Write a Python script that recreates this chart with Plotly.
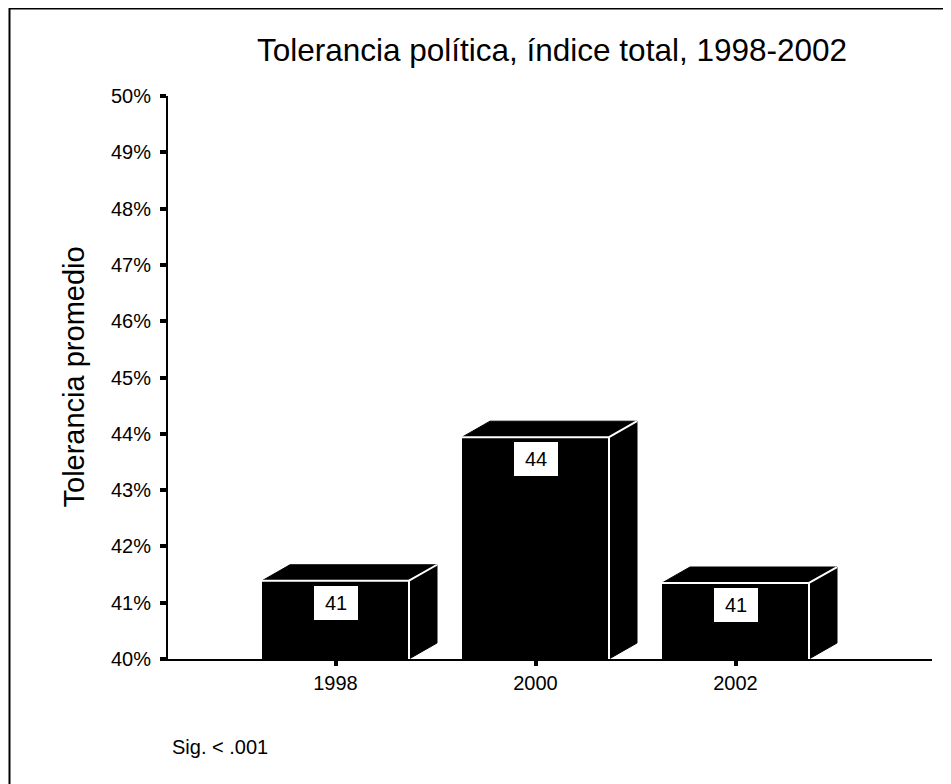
import plotly.graph_objects as go

# ---- data ----
years = ["1998", "2000", "2002"]
values = [41.39, 43.94, 41.35]
labels = ["41", "44", "41"]
y_ticks = [40, 41, 42, 43, 44, 45, 46, 47, 48, 49, 50]
y_ticktext = [f"{t}%" for t in y_ticks]
title_text = "Tolerancia política, índice total, 1998-2002"
y_title = "Tolerancia promedio"
note_text = "Sig. < .001"

# ---- style / geometry ----
W, H = 951, 784
L, R, T, B = 160, 27, 88, 133
base = 40
bar_w = 0.735
dx = 0.14      # depth offset in category units
dy = 0.284     # depth offset in percent units
FONT = "Liberation Sans, Arial, sans-serif"

xs = list(range(len(years)))

fig = go.Figure()

# front faces
fig.add_trace(go.Bar(x=xs, y=[v - base for v in values], base=base, width=bar_w,
                     marker=dict(color="black", line=dict(width=0)),
                     hoverinfo="skip", showlegend=False))

# top and side faces
px, py = [], []
for x, v in zip(xs, values):
    x0, x1 = x - bar_w / 2, x + bar_w / 2
    px += [x0, x1, x1 + dx, x0 + dx, x0, None]
    py += [v, v, v + dy, v + dy, v, None]
    px += [x1, x1, x1 + dx, x1 + dx, x1, None]
    py += [base, v, v + dy, base + dy, base, None]
fig.add_trace(go.Scatter(x=px, y=py, mode="lines", fill="toself", fillcolor="black",
                         line=dict(color="black", width=1), hoverinfo="skip",
                         showlegend=False, cliponaxis=False))

# white edges
ex, ey = [], []
for x, v in zip(xs, values):
    x0, x1 = x - bar_w / 2, x + bar_w / 2
    ex += [x0, x1, x1, None, x1, x1 + dx, None]
    ey += [v, v, base, None, v, v + dy, None]
fig.add_trace(go.Scatter(x=ex, y=ey, mode="lines", line=dict(color="white", width=2),
                         hoverinfo="skip", showlegend=False))

# value labels
for x, v, t in zip(xs, values, labels):
    fig.add_annotation(x=x, y=v, text=t, showarrow=False, yanchor="top", yshift=-5,
                       width=44, height=34, bgcolor="white", borderpad=0, borderwidth=0,
                       font=dict(family=FONT, size=20, color="black"))

pw, ph = W - L - R, H - T - B
def pxx(p):
    return (p - L) / pw
def pyy(p):
    return (H - B - p) / ph

# y title
fig.add_annotation(xref="paper", yref="paper", x=pxx(65), y=0.5, text=y_title,
                   textangle=-90, showarrow=False, xanchor="center", yanchor="middle",
                   font=dict(family=FONT, size=29, color="black"))
# note
fig.add_annotation(xref="paper", yref="paper", x=pxx(162), y=pyy(739), text=note_text,
                   showarrow=False, xanchor="left", yanchor="middle",
                   font=dict(family=FONT, size=20, color="black"))

# frame around the figure
fig.add_shape(type="rect", xref="paper", yref="paper", x0=pxx(1.5), x1=pxx(W - 1),
              y0=pyy(H - 1), y1=pyy(0.5), line=dict(color="black", width=2),
              fillcolor="rgba(0,0,0,0)")

fig.update_layout(
    width=W, height=H, margin=dict(l=L, r=R, t=T, b=B),
    paper_bgcolor="white", plot_bgcolor="white",
    font=dict(family=FONT, color="black"),
    title=dict(text=title_text, x=544 / W, xanchor="center", y=1 - 42 / H,
               yanchor="middle", font=dict(family=FONT, size=31.5, color="black")),
    showlegend=False, bargap=0,
)
fig.update_xaxes(range=[-0.8375, 2.9825], tickvals=xs, ticktext=years,
                 showline=True, linecolor="black", linewidth=2, showgrid=False,
                 zeroline=False, ticks="outside", ticklen=5, tickwidth=4,
                 tickcolor="black", tickfont=dict(family=FONT, size=20, color="black"))
fig.update_yaxes(range=[40, 50], tickvals=y_ticks, ticktext=y_ticktext,
                 showline=True, linecolor="black", linewidth=2, showgrid=False,
                 zeroline=False, ticks="outside", ticklen=6, tickwidth=4,
                 tickcolor="black", ticklabelstandoff=5,
                 tickfont=dict(family=FONT, size=20, color="black"))

fig.write_html("out.html")
